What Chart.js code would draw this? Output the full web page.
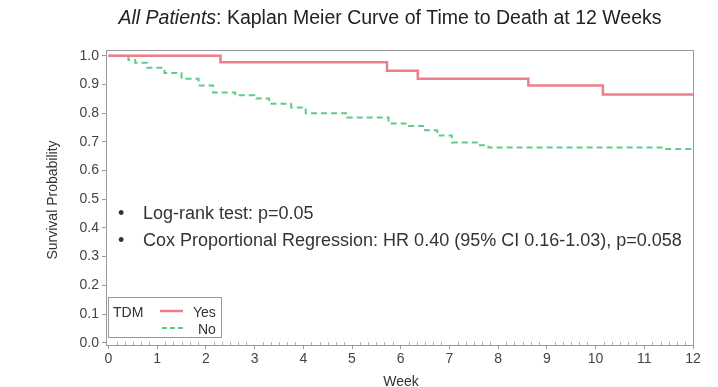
<!DOCTYPE html>
<html>
<head>
<meta charset="utf-8">
<script src="https://cdn.jsdelivr.net/npm/chart.js@4"></script>
<style>
  html, body { margin: 0; padding: 0; background: #fff; }
  #wrap { width: 718px; height: 387px; position: relative; }
</style>
</head>
<body>
<div id="wrap"><canvas id="kmChart" width="718" height="387"></canvas></div>
<script>
// Kaplan-Meier steps (week, survival)
const yesWeeks = [0, 2.3, 5.72, 6.35, 8.62, 10.15, 12];
const yesSurv  = [1.0, 0.977, 0.948, 0.92, 0.896, 0.865, 0.865];

const noWeeks = [0, 0.41, 0.55, 0.8, 1.15, 1.5, 1.85, 2.15, 2.6, 3.0, 3.3, 3.75, 4.05, 4.9, 5.75, 6.1, 6.5, 6.75, 7.05, 7.6, 7.8, 11.4, 12];
const noSurv  = [1.0, 0.985, 0.976, 0.958, 0.94, 0.92, 0.896, 0.872, 0.862, 0.851, 0.833, 0.82, 0.80, 0.785, 0.764, 0.755, 0.74, 0.722, 0.698, 0.688, 0.68, 0.675, 0.675];

const xTicks = [0, 1, 2, 3, 4, 5, 6, 7, 8, 9, 10, 11, 12];
const yTicks = [0, 0.1, 0.2, 0.3, 0.4, 0.5, 0.6, 0.7, 0.8, 0.9, 1.0];
const minorPerWeek = 6;

const notes = [
  'Log-rank test: p=0.05',
  'Cox Proportional Regression: HR 0.40 (95% CI 0.16-1.03), p=0.058'
];

const RED = '#ec7f88';
const GREEN = '#5fcb8c';
const FONT = '"Liberation Sans", Arial, sans-serif';

function toPoints(xs, ys) {
  return xs.map((x, i) => ({ x: x, y: ys[i] }));
}

// title, frame, axis titles, notes and the small TDM legend
const extras = {
  id: 'extras',
  afterDraw(chart) {
    const { ctx, chartArea: a } = chart;
    const xs = chart.scales.x;
    ctx.save();
    // frame
    ctx.strokeStyle = '#9a9a9a';
    ctx.lineWidth = 1;
    ctx.strokeRect(a.left + 0.5, a.top + 0.5, a.right - a.left, a.bottom - a.top);

    // small minor ticks along the week axis
    ctx.strokeStyle = '#b0b0b0';
    ctx.beginPath();
    for (let i = 1; i < 12 * minorPerWeek; i++) {
      if (i % minorPerWeek === 0) continue;
      const px = Math.round(xs.getPixelForValue(i / minorPerWeek)) + 0.5;
      ctx.moveTo(px, a.bottom);
      ctx.lineTo(px, a.bottom - 3);
    }
    ctx.stroke();

    // title with italic lead-in
    ctx.fillStyle = '#222';
    ctx.textBaseline = 'alphabetic';
    const lead = 'All Patients';
    const rest = ': Kaplan Meier Curve of Time to Death at 12 Weeks';
    ctx.font = 'italic 19.5px ' + FONT;
    const w1 = ctx.measureText(lead).width;
    ctx.font = '19.5px ' + FONT;
    const w2 = ctx.measureText(rest).width;
    let tx = 390 - (w1 + w2) / 2;
    ctx.font = 'italic 19.5px ' + FONT;
    ctx.fillText(lead, tx, 24);
    ctx.font = '19.5px ' + FONT;
    ctx.fillText(rest, tx + w1, 24);

    // axis titles
    ctx.font = '14px ' + FONT;
    ctx.fillStyle = '#333';
    ctx.textAlign = 'center';
    ctx.fillText('Week', 401, 386);
    ctx.save();
    ctx.translate(57, 200);
    ctx.rotate(-Math.PI / 2);
    ctx.fillText('Survival Probability', 0, 0);
    ctx.restore();
    ctx.textAlign = 'left';

    // notes
    ctx.font = '18px ' + FONT;
    ctx.fillStyle = '#333';
    notes.forEach((t, i) => {
      const yy = 219 + i * 27;
      ctx.fillText('•', 118, yy);
      ctx.fillText(t, 143, yy);
    });

    // legend box
    const lx = 108, ly = 297, lw = 113, lh = 40;
    ctx.strokeStyle = '#9a9a9a';
    ctx.strokeRect(lx + 0.5, ly + 0.5, lw, lh);
    ctx.font = '14px ' + FONT;
    ctx.fillStyle = '#333';
    ctx.fillText('TDM', 113, 317);
    ctx.fillText('Yes', 193, 317);
    ctx.fillText('No', 198, 334);
    ctx.lineWidth = 2.5;
    ctx.strokeStyle = RED;
    ctx.beginPath(); ctx.moveTo(160, 311); ctx.lineTo(183, 311); ctx.stroke();
    ctx.lineWidth = 2;
    ctx.strokeStyle = GREEN;
    ctx.setLineDash([5, 3]);
    ctx.beginPath(); ctx.moveTo(162, 328); ctx.lineTo(184, 328); ctx.stroke();
    ctx.setLineDash([]);
    ctx.restore();
  }
};

const ctx = document.getElementById('kmChart').getContext('2d');
const kmChart = new Chart(ctx, {
  type: 'line',
  data: {
    datasets: [
      {
        label: 'Yes',
        data: toPoints(yesWeeks, yesSurv),
        borderColor: RED,
        borderWidth: 2.5,
        stepped: true,
        pointRadius: 0,
        fill: false
      },
      {
        label: 'No',
        data: toPoints(noWeeks, noSurv),
        borderColor: GREEN,
        borderWidth: 2,
        borderDash: [6, 4],
        stepped: true,
        pointRadius: 0,
        fill: false
      }
    ]
  },
  options: {
    responsive: false,
    animation: false,
    layout: { padding: { top: 50, right: 25, left: 0, bottom: 0 } },
    plugins: {
      legend: { display: false },
      tooltip: { enabled: false },
      title: { display: false }
    },
    scales: {
      x: {
        type: 'linear',
        min: -0.05,
        max: 12,
        afterBuildTicks: (s) => { s.ticks = xTicks.map(v => ({ value: v })); },
        afterFit: (s) => { s.height = 42; },
        grid: { drawOnChartArea: false, tickLength: 4, color: '#9a9a9a' },
        border: { color: '#9a9a9a' },
        ticks: { color: '#444', font: { family: FONT, size: 14 }, padding: 2, maxRotation: 0, autoSkip: false }
      },
      y: {
        min: -0.008,
        max: 1.02,
        afterBuildTicks: (s) => { s.ticks = yTicks.map(v => ({ value: v })); },
        afterFit: (s) => { s.width = 106; },
        grid: { drawOnChartArea: false, tickLength: 4, color: '#9a9a9a' },
        border: { color: '#9a9a9a' },
        ticks: { color: '#444', font: { family: FONT, size: 14 }, padding: 3, autoSkip: false, callback: (v) => v.toFixed(1) }
      }
    }
  },
  plugins: [extras]
});
</script>
</body>
</html>
